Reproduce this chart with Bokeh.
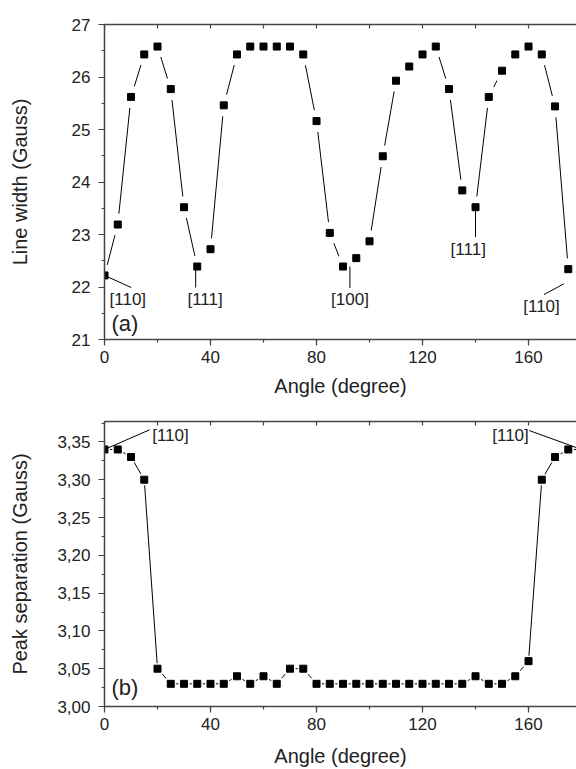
from bokeh.plotting import figure
from bokeh.models import (Range1d, LinearAxis, SingleIntervalTicker, FixedTicker, Label,
                          ColumnDataSource, CustomJSTickFormatter)
from bokeh.layouts import column
from bokeh.embed import file_html
from bokeh.resources import INLINE

# ---- data ----
angles = [0, 5, 10, 15, 20, 25, 30, 35, 40, 45, 50, 55, 60, 65, 70, 75, 80, 85, 90, 95,
          100, 105, 110, 115, 120, 125, 130, 135, 140, 145, 150, 155, 160, 165, 170, 175, 180]
line_width_gauss = [22.22, 23.19, 25.62, 26.43, 26.58, 25.77, 23.52, 22.39, 22.72, 25.46,
                    26.43, 26.58, 26.58, 26.58, 26.58, 26.43, 25.16, 23.03, 22.39, 22.55,
                    22.87, 24.49, 25.93, 26.20, 26.43, 26.58, 25.77, 23.84, 23.52, 25.62,
                    26.12, 26.43, 26.58, 26.43, 25.44, 22.34, 22.22]
peak_separation = [3.34, 3.34, 3.33, 3.30, 3.05, 3.03, 3.03, 3.03, 3.03, 3.03,
                   3.04, 3.03, 3.04, 3.03, 3.05, 3.05, 3.03, 3.03, 3.03, 3.03,
                   3.03, 3.03, 3.03, 3.03, 3.03, 3.03, 3.03, 3.03, 3.04, 3.03,
                   3.03, 3.04, 3.06, 3.30, 3.33, 3.34, 3.34]

x_ticks = [0, 40, 80, 120, 160]
y1_ticks = [21, 22, 23, 24, 25, 26, 27]
y2_ticks = [3.00, 3.05, 3.10, 3.15, 3.20, 3.25, 3.30, 3.35]
y2_tick_labels = ["3,00", "3,05", "3,10", "3,15", "3,20", "3,25", "3,30", "3,35"]

top_labels = ["[110]", "[111]", "[100]", "[111]", "[110]"]
top_label_x = [1.9, 31.3, 85.5, 130.6, 158.0]
top_label_y = [21.76, 21.76, 21.76, 22.71, 21.63]
top_leader_x0 = [0.0, 34.4, 92.6, 140.0, 173.3]
top_leader_y0 = [22.22, 22.38, 22.39, 23.50, 22.06]
top_leader_x1 = [10.1, 34.4, 92.6, 140.0, 165.8]
top_leader_y1 = [21.99, 21.99, 21.98, 22.95, 21.855]

bot_labels = ["[110]", "[110]"]
bot_label_x = [18.0, 160.1]
bot_label_y = [3.359, 3.359]
bot_label_align = ["left", "right"]
bot_leader_x0 = [0.0, 160.3]
bot_leader_y0 = [3.34, 3.365]
bot_leader_x1 = [17.0, 180.0]
bot_leader_y1 = [3.366, 3.34]

FONT = "Liberation Sans"
TXT = "#222222"
AX = "#444444"


def style_axes(p):
    for ax in p.xaxis + p.yaxis:
        ax.axis_line_color = AX
        ax.axis_line_width = 1.5
        ax.major_tick_line_color = AX
        ax.minor_tick_line_color = AX
        ax.major_tick_line_width = 1.2
        ax.minor_tick_line_width = 1.2
        ax.major_label_text_font = FONT
        ax.major_label_text_font_size = "17px"
        ax.major_label_text_color = TXT
        ax.axis_label_text_font = FONT
        ax.axis_label_text_font_size = "20px"
        ax.axis_label_text_font_style = "normal"
        ax.axis_label_text_color = TXT
        ax.major_tick_in = 0
        ax.major_tick_out = 6
        ax.minor_tick_in = 0
        ax.minor_tick_out = 3
        ax.major_label_standoff = 5
    p.yaxis.major_label_standoff = 8


def add_top_axis(p):
    ax = LinearAxis(ticker=SingleIntervalTicker(interval=20, num_minor_ticks=0),
                    formatter=CustomJSTickFormatter(code="return '';"))
    ax.major_label_standoff = 0
    ax.major_tick_in = 4
    ax.major_tick_out = 0
    ax.minor_tick_in = 0
    ax.minor_tick_out = 0
    ax.axis_line_color = AX
    ax.axis_line_width = 1.5
    ax.major_tick_line_color = AX
    ax.major_tick_line_width = 1.2
    p.add_layout(ax, "above")


def draw_series(p, x, y, pad_size, pad_marker):
    src = ColumnDataSource(dict(x=x, y=y))
    p.line("x", "y", source=src, line_color="black", line_width=1)
    p.scatter("x", "y", source=src, marker=pad_marker, size=pad_size,
              fill_color="white", line_color=None)
    return src


# ---- top figure ----
p1 = figure(width=576, height=400, output_backend="svg", toolbar_location=None,
            x_range=Range1d(0, 178.1), y_range=Range1d(21, 27),
            min_border_left=104, min_border_right=0, min_border_top=24, min_border_bottom=61)
p1.outline_line_color = None
p1.grid.visible = False
p1.xaxis.ticker = SingleIntervalTicker(interval=40, num_minor_ticks=2)
p1.yaxis.ticker = SingleIntervalTicker(interval=1, num_minor_ticks=2)
p1.xaxis.axis_label = "Angle (degree)"
p1.yaxis.axis_label = "Line width (Gauss)"
style_axes(p1)
p1.yaxis.axis_label_standoff = 38
p1.xaxis.axis_label_standoff = 9
add_top_axis(p1)

s1 = draw_series(p1, angles, line_width_gauss, 22, "circle")
p1.segment(x0=top_leader_x0, y0=top_leader_y0, x1=top_leader_x1, y1=top_leader_y1,
           line_color="black", line_width=1)
p1.scatter("x", "y", source=s1, marker="square", size=7, fill_color="black", line_color="black")
for t, lx, ly in zip(top_labels, top_label_x, top_label_y):
    p1.add_layout(Label(x=lx, y=ly, text=t, text_font=FONT, text_font_size="17px",
                        text_color=TXT, text_align="left", text_baseline="middle"))
p1.add_layout(Label(x=2.6, y=21.31, text="(a)", text_font=FONT, text_font_size="22px",
                    text_color=TXT, text_align="left", text_baseline="middle"))

# ---- bottom figure ----
p2 = figure(width=576, height=369, output_backend="svg", toolbar_location=None,
            x_range=Range1d(0, 178.1), y_range=Range1d(3.0, 3.377),
            min_border_left=104, min_border_right=0, min_border_top=21, min_border_bottom=62)
p2.outline_line_color = None
p2.grid.visible = False
p2.xaxis.ticker = SingleIntervalTicker(interval=40, num_minor_ticks=2)
p2.yaxis.ticker = FixedTicker(ticks=y2_ticks,
                              minor_ticks=[3.025, 3.075, 3.125, 3.175, 3.225, 3.275, 3.325, 3.375])
p2.yaxis.major_label_overrides = dict(zip(y2_ticks, y2_tick_labels))
p2.xaxis.axis_label = "Angle (degree)"
p2.yaxis.axis_label = "Peak separation (Gauss)"
style_axes(p2)
p2.yaxis.axis_label_standoff = 23
p2.xaxis.axis_label_standoff = 12
add_top_axis(p2)

s2 = draw_series(p2, angles, peak_separation, 11, "square")
p2.segment(x0=bot_leader_x0, y0=bot_leader_y0, x1=bot_leader_x1, y1=bot_leader_y1,
           line_color="black", line_width=1)
p2.scatter("x", "y", source=s2, marker="square", size=7, fill_color="black", line_color="black")
for t, lx, ly, al in zip(bot_labels, bot_label_x, bot_label_y, bot_label_align):
    p2.add_layout(Label(x=lx, y=ly, text=t, text_font=FONT, text_font_size="17px",
                        text_color=TXT, text_align=al, text_baseline="middle"))
p2.add_layout(Label(x=2.6, y=3.025, text="(b)", text_font=FONT, text_font_size="22px",
                    text_color=TXT, text_align="left", text_baseline="middle"))

layout = column(p1, p2)
open("out.html", "w").write(file_html(layout, INLINE))
